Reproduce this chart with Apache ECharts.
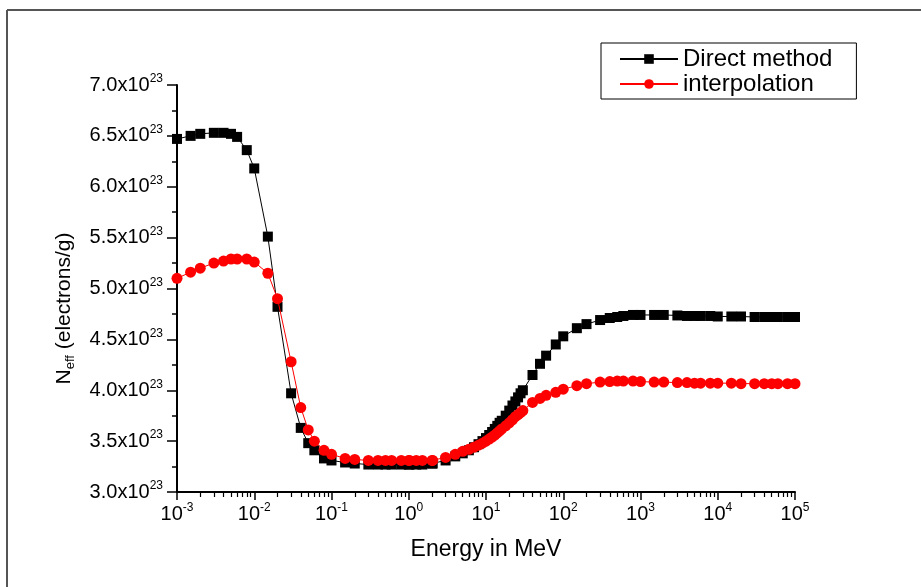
<!DOCTYPE html>
<html><head><meta charset="utf-8">
<script src="https://cdn.jsdelivr.net/npm/echarts@6/dist/echarts.min.js"></script>
<style>html,body{margin:0;padding:0;background:#fff}#c{width:921px;height:587px}</style>
</head><body><div id="c"></div>
<script>
// Photon energy grid (MeV)
const energy = [
  1e-3, 1.5e-3, 2e-3, 3e-3, 4e-3, 5e-3, 6e-3, 8e-3,
  1e-2, 1.5e-2, 2e-2, 3e-2, 4e-2, 5e-2, 6e-2, 8e-2,
  0.1, 0.15, 0.2, 0.3, 0.4, 0.5, 0.6, 0.8,
  1, 1.022, 1.25, 1.5, 2, 2.044, 3, 4, 5, 6, 7, 8, 9,
  10, 11, 12, 13, 14, 15, 16, 18, 20, 22, 24, 26, 28, 30, 40, 50, 60, 80,
  100, 150, 200, 300, 400, 500, 600, 800,
  1000, 1500, 2000, 3000, 4000, 5000, 6000, 8000,
  10000, 15000, 20000, 30000, 40000, 50000, 60000, 80000, 100000
];
// N_eff in units of 10^23 electrons/g
const directMethod = [
  6.47, 6.50, 6.52, 6.53, 6.53, 6.52, 6.49, 6.36,
  6.18, 5.51, 4.82, 3.97, 3.63, 3.48, 3.41, 3.33,
  3.31, 3.29, 3.28, 3.27, 3.27, 3.27, 3.27, 3.27,
  3.27, 3.27, 3.27, 3.27, 3.28, 3.28, 3.31, 3.35, 3.38, 3.41, 3.44, 3.47, 3.50,
  3.53, 3.56, 3.59, 3.62, 3.65, 3.68, 3.70, 3.75, 3.80, 3.85, 3.89, 3.93, 3.97, 4.00, 4.15, 4.26, 4.34, 4.45,
  4.53, 4.61, 4.65, 4.69, 4.71, 4.72, 4.73, 4.74,
  4.74, 4.74, 4.74, 4.735, 4.73, 4.73, 4.73, 4.73,
  4.725, 4.725, 4.725, 4.72, 4.72, 4.72, 4.72, 4.72, 4.72
];
const interpolation = [
  5.10, 5.16, 5.20, 5.25, 5.27, 5.29, 5.29, 5.29,
  5.26, 5.15, 4.90, 4.28, 3.83, 3.61, 3.50, 3.41,
  3.37, 3.33, 3.32, 3.31, 3.31, 3.31, 3.31, 3.31,
  3.31, 3.31, 3.31, 3.31, 3.31, 3.31, 3.34, 3.37, 3.40, 3.42, 3.44, 3.46, 3.48,
  3.50, 3.52, 3.54, 3.56, 3.58, 3.60, 3.62, 3.65, 3.68, 3.71, 3.74, 3.76, 3.78, 3.80, 3.88, 3.92, 3.95, 3.98,
  4.01, 4.045, 4.065, 4.08, 4.085, 4.09, 4.09, 4.09,
  4.085, 4.08, 4.08, 4.075, 4.075, 4.07, 4.07, 4.07,
  4.07, 4.07, 4.065, 4.065, 4.065, 4.065, 4.065, 4.065, 4.065
];
const seriesNames = ['Direct method', 'interpolation'];
const yExponent = 23;
const decades = [-3, -2, -1, 0, 1, 2, 3, 4];
const minorMultipliers = [2, 3, 4, 5, 6, 7, 8, 9];

const minorTicks = [];
decades.forEach(d => minorMultipliers.forEach(m => minorTicks.push(Math.log10(m) + d)));

const FONT = '"Liberation Sans", Arial, sans-serif';
const chart = echarts.init(document.getElementById('c'), null, {renderer: 'canvas'});

const supRich = {
  b: {fontSize: 20, lineHeight: 24, color: '#000', fontFamily: FONT},
  sup: {fontSize: 12, lineHeight: 12, verticalAlign: 'top', color: '#000', fontFamily: FONT}
};

chart.setOption({
  animation: false,
  backgroundColor: '#fff',
  textStyle: {fontFamily: FONT, color: '#000'},
  grid: {left: 177, right: 126, top: 85, bottom: 95, containLabel: false, outerBoundsMode: 'none'},
  legend: {
    data: seriesNames,
    orient: 'vertical',
    left: 601, top: 43,
    borderColor: '#000', borderWidth: 1,
    padding: [4, 24, 3, 18],
    itemWidth: 58, itemHeight: 12, itemGap: 1,
    textStyle: {fontSize: 24, color: '#000', fontFamily: FONT}
  },
  xAxis: [{
    type: 'log', logBase: 10, min: 1e-3, max: 1e5, splitNumber: 8,
    axisLine: {show: true, onZero: false, lineStyle: {color: '#000', width: 2}},
    axisTick: {show: true, inside: false, length: 8, lineStyle: {color: '#000', width: 1.5}},
    axisLabel: {
      margin: 10,
      formatter: v => '{b|10}{sup|' + Math.round(Math.log10(v)) + '}',
      rich: supRich
    },
    splitLine: {show: false},
    name: 'Energy in MeV', nameLocation: 'middle', nameGap: 46,
    nameTextStyle: {fontSize: 23, color: '#000', fontFamily: FONT}
  }, {
    type: 'value', min: -3, max: 5, position: 'bottom', offset: 0,
    axisLine: {show: false, onZero: false}, axisLabel: {show: false}, splitLine: {show: false},
    axisTick: {show: true, length: 5, customValues: minorTicks, lineStyle: {color: '#000', width: 1.2}}
  }],
  yAxis: {
    type: 'value', min: 3, max: 7, interval: 0.5,
    axisLine: {show: true, onZero: false, lineStyle: {color: '#000', width: 2}},
    axisTick: {show: true, length: 10, lineStyle: {color: '#000', width: 1.5}},
    minorTick: {show: true, splitNumber: 2, length: 5, lineStyle: {color: '#000', width: 1.5}},
    splitLine: {show: false},
    axisLabel: {
      margin: 14,
      formatter: v => '{b|' + v.toFixed(1) + 'x10}{sup|' + yExponent + '}',
      rich: supRich
    },
    name: '{b|N}{sub|eff}{b| (electrons/g)}',
    nameLocation: 'middle', nameRotate: 90, nameGap: 100,
    nameTextStyle: {
      padding: [0, 40, 0, 0],
      rich: {
        b: {fontSize: 21, lineHeight: 25, color: '#000', fontFamily: FONT},
        sub: {fontSize: 13, lineHeight: 13, verticalAlign: 'bottom', color: '#000', fontFamily: FONT}
      }
    }
  },
  series: [{
    name: seriesNames[0], type: 'line', xAxisIndex: 0,
    data: energy.map((e, i) => [e, directMethod[i]]),
    symbol: 'rect', symbolSize: 10, showAllSymbol: true,
    itemStyle: {color: '#000'}, lineStyle: {color: '#000', width: 1}, z: 2
  }, {
    name: seriesNames[1], type: 'line', xAxisIndex: 0,
    data: energy.map((e, i) => [e, interpolation[i]]),
    symbol: 'circle', symbolSize: 11, showAllSymbol: true,
    itemStyle: {color: '#ff0000'}, lineStyle: {color: '#ff0000', width: 1}, z: 3
  }],
  graphic: [
    {type: 'line', shape: {x1: 7, y1: 10, x2: 921, y2: 10}, style: {stroke: '#555', lineWidth: 2}},
    {type: 'line', shape: {x1: 7, y1: 10, x2: 7, y2: 587}, style: {stroke: '#555', lineWidth: 2}}
  ]
});
</script>
</body></html>
